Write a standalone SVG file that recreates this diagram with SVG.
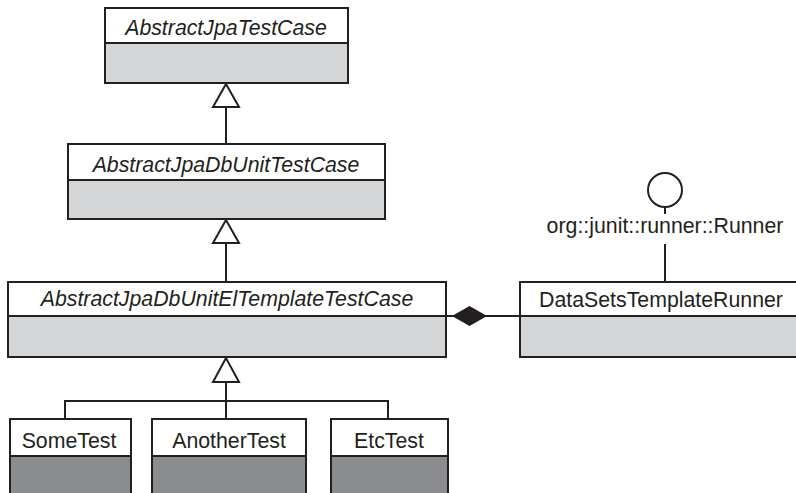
<svg xmlns="http://www.w3.org/2000/svg" width="796" height="493" viewBox="0 0 796 493">
<style>
.box{fill:#ffffff;stroke:#231f20;stroke-width:2}
.body{fill:#d4d5d7;stroke:#231f20;stroke-width:2}
.dark{fill:#8b8c8f;stroke:#231f20;stroke-width:2}
.t{font-family:"Liberation Sans",Arial,sans-serif;font-size:21.3px;fill:#231f20;text-anchor:middle}
.i{font-style:italic}
.ln{fill:none;stroke:#231f20;stroke-width:2}
.tri{fill:#ffffff;stroke:#231f20;stroke-width:2;stroke-linejoin:miter}
</style>
<rect width="796" height="493" fill="#ffffff"/>
<g id="AbstractJpaTestCase">
<rect class="box" x="105" y="8" width="243" height="35"/>
<rect class="body" x="105" y="43" width="243" height="40"/>
<text class="t i" x="226" y="35">AbstractJpaTestCase</text>
</g>
<g id="AbstractJpaDbUnitTestCase">
<rect class="box" x="68" y="144" width="317" height="36"/>
<rect class="body" x="68" y="180" width="317" height="39"/>
<text class="t i" x="226" y="172">AbstractJpaDbUnitTestCase</text>
</g>
<g id="AbstractJpaDbUnitElTemplateTestCase">
<rect class="box" x="8" y="282" width="438" height="34"/>
<rect class="body" x="8" y="316" width="438" height="41"/>
<text class="t i" x="227" y="306">AbstractJpaDbUnitElTemplateTestCase</text>
</g>
<g id="DataSetsTemplateRunner">
<rect class="box" x="520" y="282" width="290" height="34"/>
<rect class="body" x="520" y="316" width="290" height="41"/>
<text class="t" x="661" y="307">DataSetsTemplateRunner</text>
</g>
<g id="Runner">
<circle class="ln" cx="665" cy="190" r="17"/>
<text class="t" x="665" y="233">org::junit::runner::Runner</text>
</g>
<g id="SomeTest">
<rect class="box" x="10" y="419" width="121" height="37"/>
<rect class="dark" x="10" y="456" width="121" height="50"/>
<text class="t" x="69" y="448">SomeTest</text>
</g>
<g id="AnotherTest">
<rect class="box" x="152" y="419" width="154" height="37"/>
<rect class="dark" x="152" y="456" width="154" height="50"/>
<text class="t" x="229" y="448">AnotherTest</text>
</g>
<g id="EtcTest">
<rect class="box" x="331" y="419" width="117" height="37"/>
<rect class="dark" x="331" y="456" width="117" height="50"/>
<text class="t" x="389" y="448">EtcTest</text>
</g>
<g id="connectors">
<line class="ln" x1="226" y1="107" x2="226" y2="144"/>
<polygon class="tri" points="226,84 213,107 239,107"/>
<line class="ln" x1="226" y1="243" x2="226" y2="282"/>
<polygon class="tri" points="226,220 213,243 239,243"/>
<line class="ln" x1="226" y1="382" x2="226" y2="419"/>
<polygon class="tri" points="226,358 213,382 239,382"/>
<polyline class="ln" points="65,419 65,401 388,401 388,419"/>
<line class="ln" x1="446" y1="316" x2="520" y2="316"/>
<polygon points="452,316 469.5,306 487,316 469.5,326" fill="#231f20"/>
<line class="ln" x1="665" y1="207" x2="665" y2="214"/>
<line class="ln" x1="665" y1="244" x2="665" y2="282"/>
</g>
</svg>
